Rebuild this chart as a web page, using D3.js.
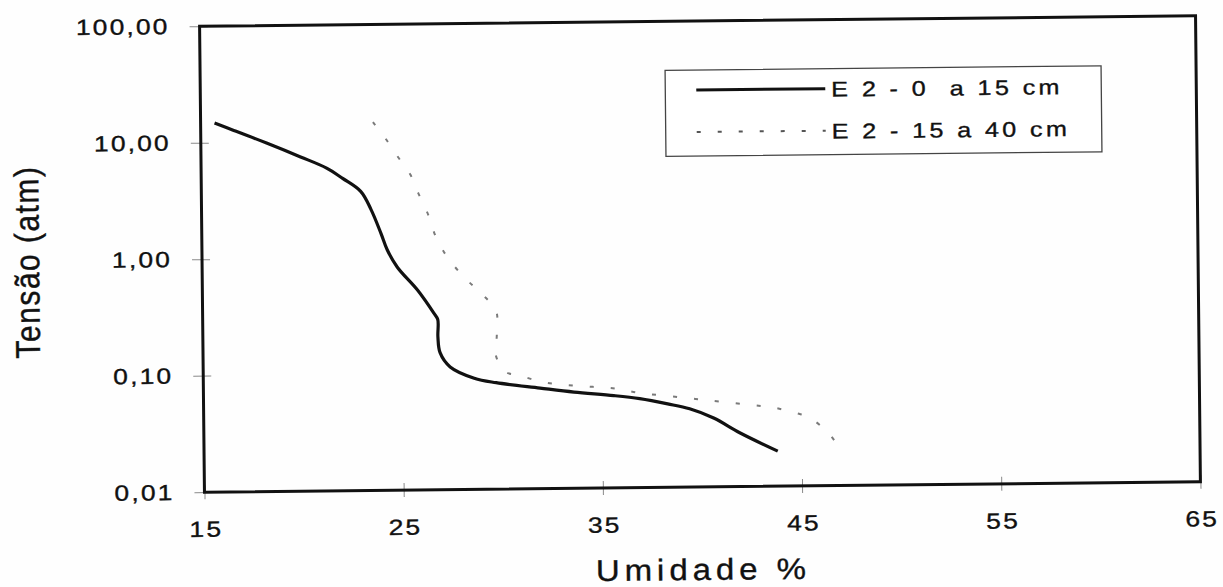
<!DOCTYPE html>
<html>
<head>
<meta charset="utf-8">
<script src="https://cdn.jsdelivr.net/npm/d3@7"></script>
<style>
  html, body { margin: 0; padding: 0; background: #fefefe; }
  svg { display: block; }
  text { font-family: "Liberation Sans", Arial, sans-serif; fill: #111; stroke: #111; stroke-width: 0.35px; }
</style>
</head>
<body>
<div id="chart"></div>
<script>
// umidade (%) x tensão (atm)
const umidade0a15 = [15.7, 16.6, 18.3, 20.0, 21.3, 22.1, 23.0, 23.5, 24.0, 24.3, 24.8, 25.8, 26.6, 26.8, 26.8, 26.9, 27.4, 28.6, 29.7, 31.9, 33.6, 35.6, 36.9, 38.3, 39.4, 40.6, 41.9, 43.8];
const tensao0a15   = [14.7, 12.8, 9.8, 7.4, 5.9, 4.8, 3.7, 2.6, 1.6, 1.16, 0.82, 0.52, 0.33, 0.29, 0.205, 0.15, 0.113, 0.090, 0.082, 0.073, 0.067, 0.062, 0.058, 0.052, 0.047, 0.039, 0.029, 0.020];

const umidade15a40 = [23.65, 24.25, 24.9, 25.5, 25.9, 26.4, 26.75, 27.35, 28.2, 29.0, 29.7, 29.8, 29.75, 29.7, 30.2, 30.8, 32.05, 33.3, 34.55, 35.75, 36.9, 38.25, 39.7, 40.9, 42.5, 43.7, 44.8, 45.35, 46.3, 46.9];
const tensao15a40   = [14.5, 10.6, 7.2, 5.1, 3.5, 2.25, 1.48, 0.97, 0.65, 0.48, 0.35, 0.29, 0.20, 0.14, 0.101, 0.095, 0.082, 0.077, 0.074, 0.071, 0.065, 0.061, 0.057, 0.054, 0.050, 0.047, 0.042, 0.039, 0.029, 0.021];

const seriesNames = ["E 2 - 0  a 15 cm", "E 2 - 15 a 40 cm"];
const xTicks = [15, 25, 35, 45, 55, 65];
const yTicks = [0.01, 0.1, 1, 10, 100];
const xTitle = "Umidade %";
const yTitle = "Tensão (atm)";

const width = 1223, height = 587;
const margin = {left: 202, right: 25, top: 21, bottom: 100};
const stretch = 1.2; // the scanned lettering is wider than Arial

const svg = d3.select("#chart").append("svg")
  .attr("width", width)
  .attr("height", height);

// the scan is slightly tilted, so the whole figure is too
const g = svg.append("g")
  .attr("transform", "rotate(-0.6, 700, 254)");

const x = d3.scaleLinear()
  .domain([15, 65])
  .range([margin.left, width - margin.right]);

const y = d3.scaleLog()
  .domain([0.01, 100])
  .range([height - margin.bottom, margin.top]);

const ptBR = d3.formatLocale({decimal: ",", thousands: ".", grouping: [3], currency: ["", ""]});
const fmt = ptBR.format(".2f");

// axes
const axisX = d3.axisBottom(x).tickValues(xTicks).tickSize(7).tickFormat(d3.format("d"));
const axisY = d3.axisLeft(y).tickValues(yTicks).tickSize(10).tickFormat(fmt);

const gx = g.append("g")
  .attr("transform", `translate(0, ${y(0.01)})`)
  .call(axisX);

const gy = g.append("g")
  .attr("transform", `translate(${x(15)}, 0)`)
  .call(axisY);

gx.select(".domain").remove();
gy.select(".domain").remove();

gx.selectAll(".tick line").attr("y1", -7).attr("stroke", "#8a8a8a").attr("stroke-width", 1);
gy.selectAll(".tick line").attr("x1", 8).attr("stroke", "#8a8a8a").attr("stroke-width", 1);

[gx, gy].forEach((a) => {
  a.attr("font-family", null).attr("font-size", null);
  a.selectAll(".tick text")
    .style("font-size", "22px")
    .style("letter-spacing", "1.8px")
    .attr("fill", "#111");
});
gy.selectAll(".tick text")
  .attr("x", 0)
  .attr("transform", `translate(-30, 0) scale(${stretch}, 1)`);
gx.selectAll(".tick text")
  .attr("y", 0)
  .attr("transform", `translate(1, 29) scale(${stretch}, 1)`);

// series
const line = d3.line()
  .x((d) => x(d[0]))
  .y((d) => y(d[1]))
  .curve(d3.curveCatmullRom.alpha(0.5));

const serie1 = d3.zip(umidade0a15, tensao0a15);
const serie2 = d3.zip(umidade15a40, tensao15a40);

g.append("path")
  .attr("d", line(serie2))
  .attr("fill", "none")
  .attr("stroke", "#7a7a7a")
  .attr("stroke-width", 2)
  .attr("stroke-dasharray", "4,17");

g.append("path")
  .attr("d", line(serie1))
  .attr("fill", "none")
  .attr("stroke", "#111")
  .attr("stroke-width", 3.2)
  .attr("stroke-linejoin", "round");

// plot frame
g.append("rect")
  .attr("x", x(15))
  .attr("y", y(100))
  .attr("width", x(65) - x(15))
  .attr("height", y(0.01) - y(100))
  .attr("fill", "none")
  .attr("stroke", "#111")
  .attr("stroke-width", 3);

// legend
const legend = g.append("g").attr("transform", "translate(667, 70)");
legend.append("rect")
  .attr("width", 436)
  .attr("height", 86)
  .attr("fill", "#fff")
  .attr("stroke", "#444")
  .attr("stroke-width", 1.3);

const styles = [
  {stroke: "#111", width: 3, dash: null},
  {stroke: "#555", width: 2, dash: "4,17"}
];

const items = legend.selectAll(".item")
  .data(seriesNames)
  .enter().append("g")
  .attr("class", "item")
  .attr("transform", (d, i) => `translate(0, ${20 + i * 42})`);

items.append("line")
  .attr("x1", 31).attr("x2", 160)
  .attr("stroke", (d, i) => styles[i].stroke)
  .attr("stroke-width", (d, i) => styles[i].width)
  .attr("stroke-dasharray", (d, i) => styles[i].dash);

items.append("text")
  .attr("transform", `translate(166, 8) scale(${stretch}, 1)`)
  .style("font-size", "21px")
  .style("letter-spacing", "2.8px")
  .style("white-space", "pre")
  .text((d) => d);

// titles
g.append("text")
  .attr("transform", `translate(${(x(15) + x(65)) / 2}, 580) scale(1.1, 1)`)
  .attr("text-anchor", "middle")
  .style("font-size", "30px")
  .style("letter-spacing", "4.5px")
  .text(xTitle);

g.append("text")
  .attr("transform", "translate(39, 255) scale(1.15, 1) rotate(-90)")
  .attr("text-anchor", "middle")
  .style("font-size", "30px")
  .style("letter-spacing", "1.5px")
  .text(yTitle);
</script>
</body>
</html>
